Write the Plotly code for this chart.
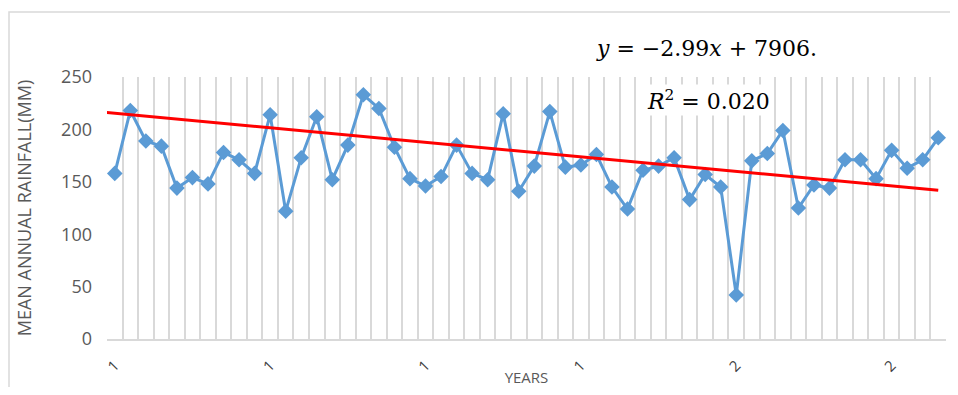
import plotly.graph_objects as go

years = list(range(1961, 2015))
rainfall = [158, 218, 189, 184, 144, 154, 148, 178, 171, 158,
            214, 122, 173, 212, 152, 185, 233, 220, 183, 153,
            146, 155, 185, 158, 152, 215, 141, 165, 217, 164,
            166, 176, 145, 124, 161, 165, 173, 133, 157, 145,
            42, 170, 177, 199, 125, 147, 144, 171, 171, 153,
            180, 163, 171, 192]
tick_years = [1961, 1971, 1981, 1991, 2001, 2011]
tick_labels = ["1", "1", "1", "1", "2", "2"]
trend_years = [1959.45, 2014]
trend_values = [217.6, 142.0]

fig = go.Figure()
fig.add_trace(go.Scatter(
    x=years, y=rainfall, mode="lines+markers",
    line=dict(color="#5b9bd5", width=3),
    marker=dict(symbol="diamond", size=12, color="#5b9bd5"),
    showlegend=False, cliponaxis=False))
fig.add_trace(go.Scatter(
    x=trend_years, y=trend_values, mode="lines",
    line=dict(color="#ff0000", width=3), showlegend=False))

fig.update_layout(
    width=942, height=379,
    margin=dict(l=99, r=4, t=69, b=48),
    paper_bgcolor="white", plot_bgcolor="white",
    font=dict(family="Open Sans", color="#595959"),
    xaxis=dict(
        range=[1960.5, 2014.5], automargin=False,
        tickmode="array", tickvals=tick_years, ticktext=tick_labels,
        tickangle=-45, tickfont=dict(size=15, color="#404040"),
        ticklabelstandoff=10,
        showgrid=False, zeroline=False,
        showline=True, linecolor="#d9d9d9", linewidth=2,
        ticks="",
        minor=dict(tick0=1960.5, dtick=1, showgrid=True,
                   gridcolor="#d9d9d9", gridwidth=2),
        title=dict(text="YEARS", font=dict(size=15, color="#595959"), standoff=13),
    ),
    yaxis=dict(
        range=[0, 250], tickvals=[0, 50, 100, 150, 200, 250], automargin=False,
        showgrid=False, zeroline=False, showline=False,
        tickfont=dict(size=18, color="#595959"),
        ticks="", ticklen=0, ticklabelstandoff=14,
        title=dict(text="MEAN ANNUAL RAINFALL(MM)",
                   font=dict(size=18, color="#595959"), standoff=24),
    ),
    shapes=[dict(type="rect", xref="paper", yref="paper",
                 x0=(9 - 107) / 839, x1=1.2, y0=-0.4, y1=(339 - 12) / 262,
                 line=dict(color="#d9d9d9", width=1.5))],
    annotations=[
        dict(text="<i>y</i> = −2.99<i>x</i> + 7906.", xref="paper", yref="paper",
             x=(706 - 107) / 839, y=(339 - 48) / 262, showarrow=False,
             xanchor="center", yanchor="middle",
             font=dict(family="DejaVu Serif", size=22, color="#000000")),
        dict(text="<i>R</i><sup>2</sup> = 0.020", xref="paper", yref="paper",
             x=(708 - 107) / 839, y=(339 - 100) / 262, showarrow=False,
             xanchor="center", yanchor="middle", bgcolor="white",
             font=dict(family="DejaVu Serif", size=22, color="#000000")),
    ],
)

fig.write_html("out.html")
